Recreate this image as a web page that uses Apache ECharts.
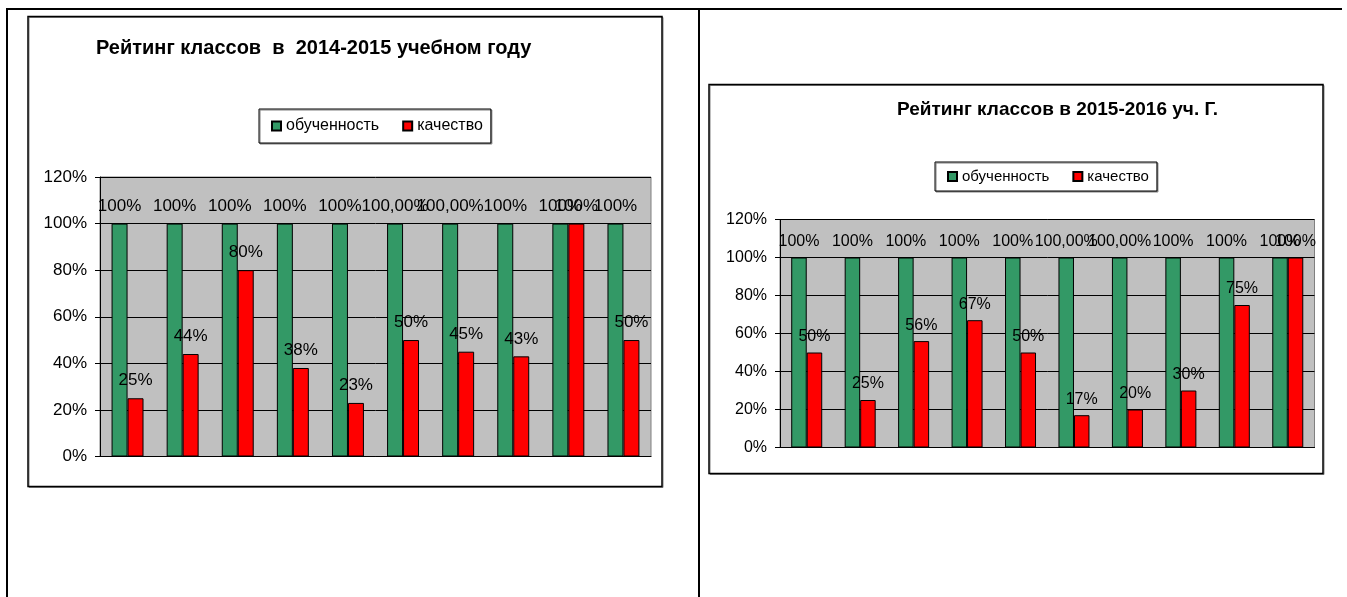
<!DOCTYPE html>
<html>
<head>
<meta charset="utf-8">
<script src="https://cdn.jsdelivr.net/npm/echarts@6/dist/echarts.min.js"></script>
<style>
html,body{margin:0;padding:0;background:#fff;}
#chart{width:1347px;height:597px;}
</style>
</head>
<body>
<div id="chart"></div>
<script>
// ---- data ----
var classes = ['1', '2', '3', '4', '5', '6', '7', '8', '9', '10'];
var seriesNames = ['обученность', 'качество'];
var titles = ['Рейтинг классов  в  2014-2015 учебном году', 'Рейтинг классов в 2015-2016 уч. Г.'];
var yTicks = [0, 0.2, 0.4, 0.6, 0.8, 1.0, 1.2];

var learn2014 = [1, 1, 1, 1, 1, 1, 1, 1, 1, 1];
var learnLabels2014 = ['100%', '100%', '100%', '100%', '100%', '100,00%', '100,00%', '100%', '100%', '100%'];
var quality2014 = [0.25, 0.44, 0.80, 0.38, 0.23, 0.50, 0.45, 0.43, 1.00, 0.50];

var learn2015 = [1, 1, 1, 1, 1, 1, 1, 1, 1, 1];
var learnLabels2015 = ['100%', '100%', '100%', '100%', '100%', '100,00%', '100,00%', '100%', '100%', '100%'];
var quality2015 = [0.50, 0.25, 0.56, 0.67, 0.50, 0.17, 0.20, 0.30, 0.75, 1.00];

// ---- chart ----
var FONT = 'Arial, "Liberation Sans", sans-serif';
var GREEN = '#339966', RED = '#FF0000';
var chart = echarts.init(document.getElementById('chart'), null, {renderer: 'canvas'});

function pct(v) { return Math.round(v * 100) + '%'; }

function yAxis(gi, fs) {
  return {
    type: 'value', gridIndex: gi, min: yTicks[0], max: yTicks[yTicks.length - 1], interval: yTicks[1] - yTicks[0],
    axisLine: {show: true, lineStyle: {color: '#000', width: 1}},
    axisTick: {show: true, length: 5, lineStyle: {color: '#000'}},
    axisLabel: {color: '#000', fontSize: fs, fontFamily: FONT, margin: 13, formatter: pct},
    splitLine: {show: true, lineStyle: {color: '#000', width: 1}}
  };
}
function xAxis(gi) {
  return {
    type: 'category', gridIndex: gi, data: classes,
    axisLine: {show: true, lineStyle: {color: '#000', width: 1}},
    axisTick: {show: false}, axisLabel: {show: false}
  };
}
function barSeries(name, gi, data, color, fs, dist, labels) {
  return {
    name: name, type: 'bar', xAxisIndex: gi, yAxisIndex: gi, data: data,
    barGap: '0%', barCategoryGap: '42%',
    itemStyle: {color: color, borderColor: '#000', borderWidth: 1},
    label: {
      show: true, position: 'top', distance: dist, color: '#000', fontSize: fs, fontFamily: FONT,
      formatter: function (p) { return labels ? labels[p.dataIndex] : pct(p.value); }
    },
    emphasis: {disabled: true}, animation: false
  };
}
function legend(left, top, fs, pad) {
  return {
    left: left, top: top, orient: 'horizontal', data: seriesNames,
    itemWidth: 9, itemHeight: 9, itemGap: 23, icon: 'rect',
    padding: pad, borderColor: '#000', borderWidth: 1, backgroundColor: '#fff',
    shadowColor: '#808080', shadowOffsetX: 1, shadowOffsetY: 1, shadowBlur: 0,
    textStyle: {color: '#000', fontSize: fs, fontFamily: FONT},
    selectedMode: false
  };
}

var option = {
  backgroundColor: '#fff',
  animation: false,
  graphic: [
    // table frame
    {type: 'line', shape: {x1: 6, y1: 9, x2: 1342, y2: 9}, style: {stroke: '#000', lineWidth: 2}},
    {type: 'line', shape: {x1: 7, y1: 8, x2: 7, y2: 597}, style: {stroke: '#000', lineWidth: 2}},
    {type: 'line', shape: {x1: 699, y1: 8, x2: 699, y2: 597}, style: {stroke: '#000', lineWidth: 2}},
    // chart boxes
    {type: 'rect', shape: {x: 29, y: 17.5, width: 634, height: 470}, style: {fill: 'none', stroke: '#808080', lineWidth: 1}},
    {type: 'rect', shape: {x: 28, y: 16.5, width: 634, height: 470}, style: {fill: 'none', stroke: '#000', lineWidth: 1.5}},
    {type: 'rect', shape: {x: 710, y: 85.5, width: 614, height: 389}, style: {fill: 'none', stroke: '#808080', lineWidth: 1}},
    {type: 'rect', shape: {x: 709, y: 84.5, width: 614, height: 389}, style: {fill: 'none', stroke: '#000', lineWidth: 1.5}}
  ],
  title: [
    {text: titles[0], left: 96, top: 38, padding: 0,
     textStyle: {fontSize: 20, fontWeight: 'bold', color: '#000', fontFamily: FONT}},
    {text: titles[1], left: 897, top: 100, padding: 0,
     textStyle: {fontSize: 19, fontWeight: 'bold', color: '#000', fontFamily: FONT}}
  ],
  legend: [
    legend(259, 109, 16, [9, 8, 9, 12]),
    legend(935, 162, 15, [7, 8, 7, 12])
  ],
  grid: [
    {left: 100, top: 177, right: 696, bottom: 140.5, show: true, backgroundColor: '#C0C0C0', borderColor: '#808080', borderWidth: 1},
    {left: 780, top: 219.5, right: 32.5, bottom: 149.5, show: true, backgroundColor: '#C0C0C0', borderColor: '#808080', borderWidth: 1}
  ],
  xAxis: [xAxis(0), xAxis(1)],
  yAxis: [yAxis(0, 17), yAxis(1, 16)],
  series: [
    barSeries(seriesNames[0], 0, learn2014, GREEN, 17, 9, learnLabels2014),
    barSeries(seriesNames[1], 0, quality2014, RED, 17, 9, null),
    barSeries(seriesNames[0], 1, learn2015, GREEN, 16, 8, learnLabels2015),
    barSeries(seriesNames[1], 1, quality2015, RED, 16, 8, null)
  ]
};
chart.setOption(option);
</script>
</body>
</html>
